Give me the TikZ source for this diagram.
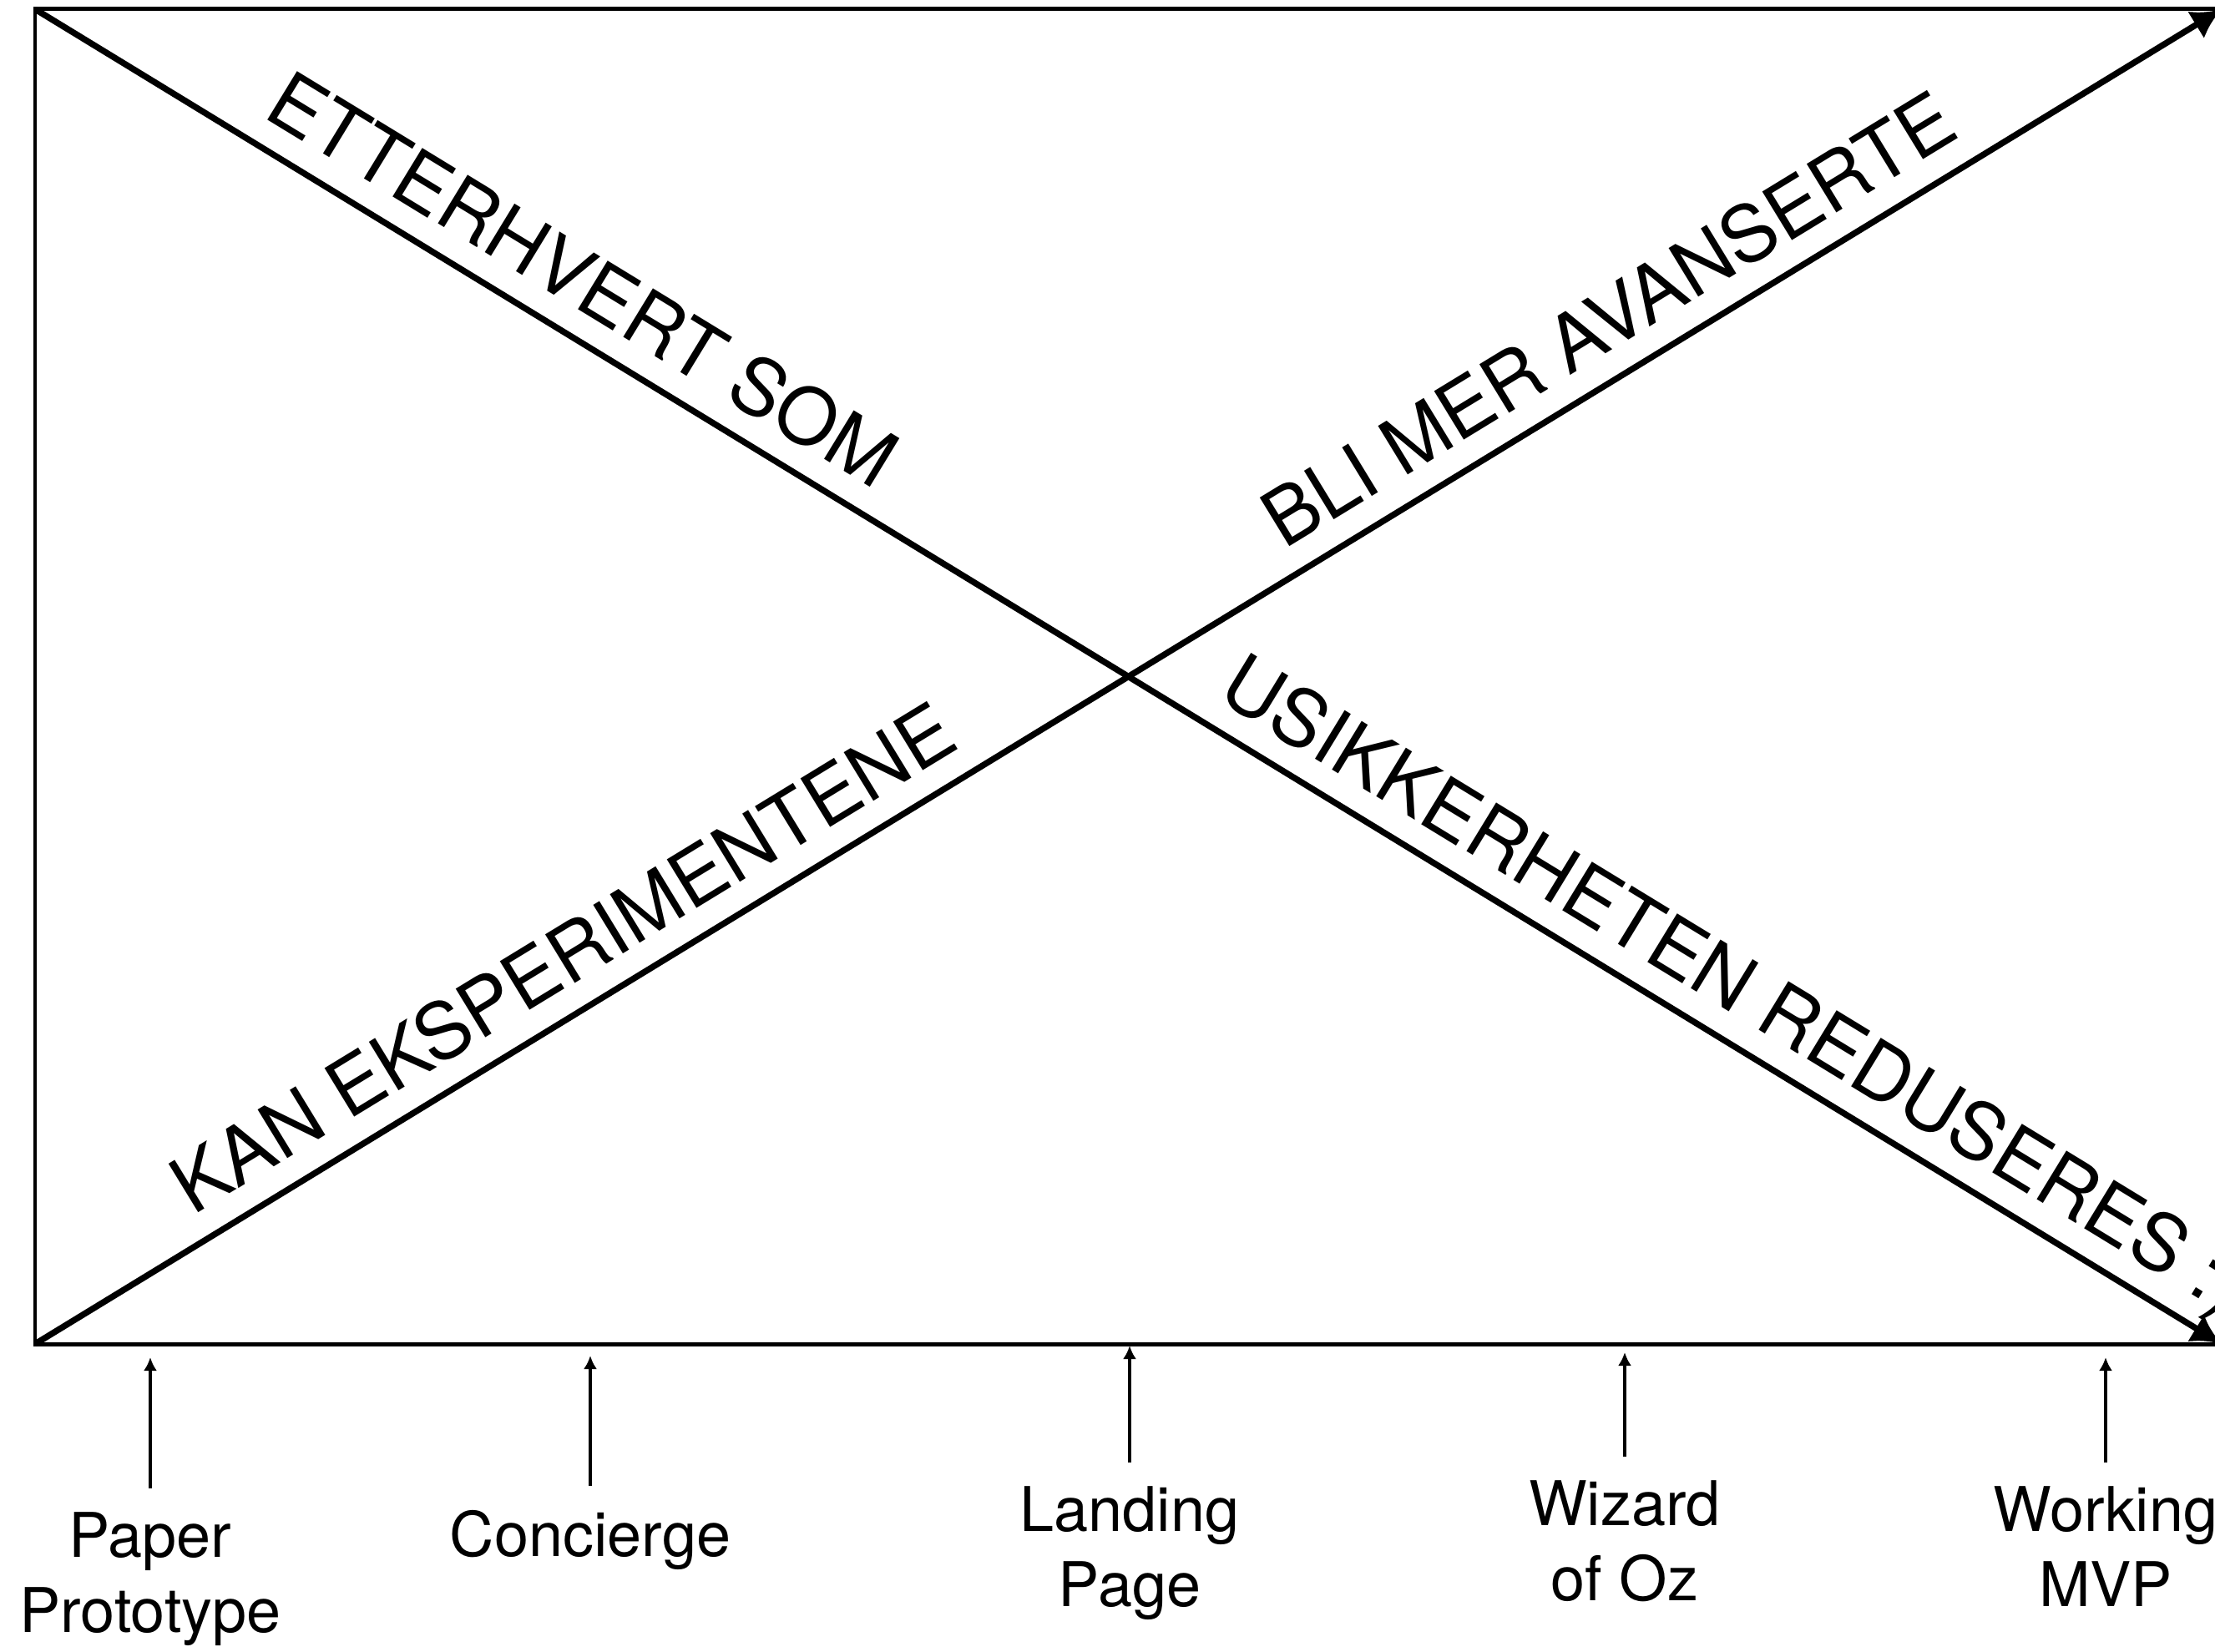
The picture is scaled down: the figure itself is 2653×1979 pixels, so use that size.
\documentclass[tikz,border=0pt]{standalone}
\usepackage{fontspec}
\setmainfont{TeX Gyre Heros}
\usetikzlibrary{calc,arrows.meta}
\begin{document}
\begin{tikzpicture}[x=0.01cm,y=-0.01cm,
  frame/.style={line width=1.42pt},
  trend/.style={line width=2.1pt,-{Latex[length=0.36cm,width=0.38cm]}},
  pointer/.style={line width=1.28pt,-{Latex[length=0.16cm,width=0.16cm]}},
  slogan/.style={font=\fontsize{26.6}{31}\selectfont, inner sep=0pt, anchor=base},
  kind/.style={font=\fontsize{21}{25.6}\selectfont, align=center, anchor=north,
    inner xsep=0pt, inner ysep=0.29cm, outer sep=0pt}]
\useasboundingbox (0,0) rectangle (2653,1979);
\clip (0,0) rectangle (2653,1979);

% corners of the frame
\coordinate (tl) at (42,11);
\coordinate (tr) at (2661,11);
\coordinate (bl) at (42,1610);
\coordinate (br) at (2661,1610);

% frame and the two crossing trends
\draw[frame] (tl) rectangle (br);
\draw[trend] (tl) -- (br);
\draw[trend] (bl) -- (tr);

% texts written along the diagonals
\node[slogan, rotate=-31.4] (s1) at ($(tl)!7.28cm!(br)!0.32cm!90:(br)$) {ETTERHVERT SOM};
\node[slogan, rotate=31.4] (s2) at ($(bl)!7.80cm!(tr)!0.32cm!90:(tr)$) {KAN EKSPERIMENTENE};
\node[slogan, rotate=31.4] (s3) at ($(bl)!22.47cm!(tr)!0.32cm!90:(tr)$) {BLI MER AVANSERTE};
\node[slogan, rotate=-31.4, anchor=base west] (s4) at ($(tl)!16.36cm!(br)!0.32cm!90:(br)$) {USIKKERHETEN REDUSERES :)};

% kinds of experiments along the axis
\node[kind] (paper) at (180,1783) {Paper\\Prototype};
\node[kind] (conc) at (707,1780) {Concierge};
\node[kind] (land) at (1353,1752) {Landing\\Page};
\node[kind] (wiz) at (1946,1745) {Wizard\\of Oz};
\node[kind] (mvp) at (2522,1752) {Working\\MVP};

\coordinate (paper tip) at (180,1626);
\coordinate (conc tip) at (707,1624);
\coordinate (land tip) at (1353,1612);
\coordinate (wiz tip) at (1946,1620);
\coordinate (mvp tip) at (2522,1626);

\foreach \k in {paper,conc,land,wiz,mvp}
  \draw[pointer] (\k.north) -- (\k\space tip);
\end{tikzpicture}
\end{document}
